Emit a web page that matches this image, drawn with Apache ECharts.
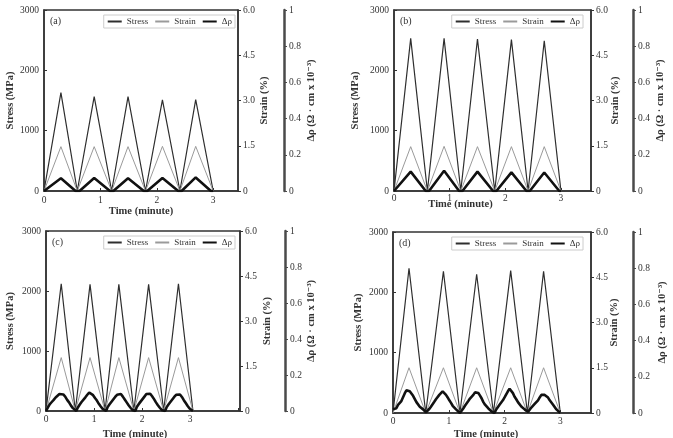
<!DOCTYPE html>
<html>
<head>
<meta charset="utf-8">
<script src="https://cdn.jsdelivr.net/npm/echarts@6/dist/echarts.min.js"></script>
<style>
  html, body { margin: 0; padding: 0; background: #fff; }
  #chart { width: 673px; height: 438px; }
</style>
</head>
<body>
<div id="chart"></div>
<script>
// panel (a)
const aTime = [0, 0.30, 0.59, 0.89, 1.20, 1.49, 1.80, 2.10, 2.41, 2.69, 3.00];
const aStress = [0, 1630, 0, 1565, 0, 1565, 0, 1510, 0, 1515, 0];
const aStrain = [0, 1.47, 0, 1.47, 0, 1.47, 0, 1.48, 0, 1.48, 0];
const aDrhoTime = [0, 0.30, 0.56, 0.63, 0.89, 1.17, 1.23, 1.49, 1.77, 1.83, 2.10, 2.38, 2.44, 2.69, 2.96, 3.00];
const aDrho = [0, 0.070, 0, 0, 0.072, 0, 0, 0.070, 0, 0, 0.072, 0, 0, 0.075, 0, 0];

// panel (b)
const bTime = [0, 0.30, 0.60, 0.90, 1.20, 1.50, 1.81, 2.11, 2.41, 2.70, 3.00];
const bStress = [0, 2530, 0, 2530, 0, 2520, 0, 2510, 0, 2490, 0];
const bStrain = [0, 1.47, 0, 1.48, 0, 1.47, 0, 1.47, 0, 1.47, 0];
const bDrhoTime = [0, 0.30, 0.57, 0.63, 0.90, 1.17, 1.23, 1.50, 1.78, 1.84, 2.11, 2.38, 2.44, 2.70, 2.97, 3.00];
const bDrho = [0, 0.107, 0, 0, 0.112, 0, 0, 0.107, 0, 0, 0.103, 0, 0, 0.102, 0, 0];

// panel (c)
const cTime = [0, 0.317, 0.61, 0.917, 1.23, 1.517, 1.83, 2.137, 2.45, 2.758, 3.06];
const cStress = [0, 2120, 0, 2110, 0, 2110, 0, 2110, 0, 2120, 0];
const cStrain = [0, 1.78, 0, 1.78, 0, 1.78, 0, 1.78, 0, 1.78, 0];
const cDrhoTime = [
  0, 0.04, 0.08, 0.12, 0.16, 0.20, 0.24, 0.28, 0.32, 0.36, 0.40, 0.44, 0.48, 0.52, 0.56, 0.60, 0.63,
  0.66, 0.70, 0.74, 0.78, 0.82, 0.86, 0.90, 0.94, 0.98, 1.02, 1.06, 1.10, 1.14, 1.18, 1.22, 1.25,
  1.28, 1.32, 1.36, 1.40, 1.44, 1.48, 1.52, 1.56, 1.60, 1.64, 1.68, 1.72, 1.76, 1.80, 1.83, 1.86,
  1.89, 1.93, 1.97, 2.01, 2.05, 2.09, 2.13, 2.17, 2.21, 2.25, 2.29, 2.33, 2.37, 2.41, 2.45, 2.48,
  2.51, 2.55, 2.59, 2.63, 2.67, 2.71, 2.75, 2.79, 2.83, 2.87, 2.91, 2.95, 2.99, 3.03, 3.06
];
const cDrho = [
  0, 0.020, 0.038, 0.050, 0.062, 0.075, 0.083, 0.094, 0.098, 0.092, 0.080, 0.062, 0.048, 0.030, 0.016, 0.005, 0,
  0.018, 0.035, 0.050, 0.060, 0.076, 0.090, 0.103, 0.100, 0.088, 0.072, 0.058, 0.040, 0.025, 0.012, 0.003, 0,
  0.020, 0.036, 0.050, 0.064, 0.078, 0.090, 0.098, 0.094, 0.080, 0.064, 0.048, 0.032, 0.018, 0.006, 0, 0,
  0.022, 0.038, 0.052, 0.066, 0.080, 0.094, 0.100, 0.096, 0.082, 0.066, 0.048, 0.032, 0.018, 0.006, 0, 0,
  0.020, 0.036, 0.050, 0.064, 0.078, 0.090, 0.097, 0.092, 0.078, 0.060, 0.044, 0.028, 0.014, 0.004, 0
];

// panel (d)
const dTime = [0, 0.287, 0.587, 0.904, 1.20, 1.50, 1.80, 2.11, 2.41, 2.70, 3.00];
const dStress = [0, 2400, 0, 2350, 0, 2300, 0, 2360, 0, 2350, 0];
const dStrain = [0, 1.50, 0, 1.50, 0, 1.50, 0, 1.50, 0, 1.50, 0];
const dDrhoTime = [
  0, 0.03, 0.06, 0.09, 0.12, 0.15, 0.18, 0.21, 0.24, 0.27, 0.30, 0.33, 0.36, 0.39, 0.42, 0.45, 0.48, 0.51, 0.54, 0.57, 0.59,
  0.62, 0.65, 0.68, 0.71, 0.74, 0.77, 0.80, 0.83, 0.86, 0.89, 0.92, 0.95, 0.98, 1.01, 1.04, 1.07, 1.10, 1.13, 1.16, 1.20,
  1.23, 1.26, 1.29, 1.32, 1.35, 1.38, 1.41, 1.44, 1.47, 1.50, 1.53, 1.56, 1.59, 1.62, 1.65, 1.68, 1.71, 1.74, 1.77, 1.80, 1.82,
  1.85, 1.88, 1.91, 1.94, 1.97, 2.00, 2.03, 2.06, 2.09, 2.12, 2.15, 2.18, 2.21, 2.24, 2.27, 2.30, 2.33, 2.36, 2.39, 2.42,
  2.45, 2.48, 2.51, 2.54, 2.57, 2.60, 2.63, 2.66, 2.69, 2.72, 2.75, 2.78, 2.81, 2.84, 2.87, 2.90, 2.93, 2.96, 3.00
];
const dDrho = [
  0.020, 0.030, 0.026, 0.045, 0.050, 0.066, 0.075, 0.108, 0.125, 0.129, 0.120, 0.112, 0.095, 0.086, 0.060, 0.050, 0.035, 0.040, 0.020, 0.012, 0.004,
  0.010, 0.022, 0.035, 0.040, 0.062, 0.076, 0.070, 0.100, 0.110, 0.120, 0.114, 0.100, 0.086, 0.070, 0.056, 0.040, 0.030, 0.020, 0.010, 0,
  0.012, 0.025, 0.040, 0.050, 0.066, 0.080, 0.090, 0.100, 0.114, 0.120, 0.110, 0.096, 0.080, 0.060, 0.046, 0.036, 0.025, 0.020, 0.008, 0.016, 0,
  0.020, 0.030, 0.046, 0.050, 0.070, 0.086, 0.090, 0.120, 0.134, 0.125, 0.110, 0.090, 0.076, 0.060, 0.050, 0.036, 0.030, 0.020, 0.010, 0.005,
  0.015, 0.030, 0.040, 0.050, 0.060, 0.070, 0.086, 0.100, 0.105, 0.100, 0.095, 0.085, 0.070, 0.060, 0.046, 0.035, 0.020, 0.010, 0
];

const panels = [
  { label: "(a)", time: aTime, stress: aStress, strain: aStrain, drhoTime: aDrhoTime, drho: aDrho },
  { label: "(b)", time: bTime, stress: bStress, strain: bStrain, drhoTime: bDrhoTime, drho: bDrho },
  { label: "(c)", time: cTime, stress: cStress, strain: cStrain, drhoTime: cDrhoTime, drho: cDrho },
  { label: "(d)", time: dTime, stress: dStress, strain: dStrain, drhoTime: dDrhoTime, drho: dDrho },
];

// layout of each panel (pixels); shiftX moves the time title left of the box centre
const layout = [
  { left: 44, top: 10, width: 194, height: 181, xMax: 3.44, drhoOffset: 46, legendRight: 438,
    xMargin: 4, gapX: 15, shiftX: 0, gapStress: 28, gapStrain: 21, gapDrho: 22 },
  { left: 394, top: 10, width: 197, height: 181, xMax: 3.54, drhoOffset: 42, legendRight: 90,
    xMargin: 2, gapX: 7.5, shiftX: 32, gapStress: 33, gapStrain: 18.5, gapDrho: 22 },
  { left: 46, top: 231, width: 194, height: 180, xMax: 4.04, drhoOffset: 45, legendRight: 438,
    xMargin: 3, gapX: 18, shiftX: 8, gapStress: 30, gapStrain: 22, gapDrho: 21 },
  { left: 393, top: 232, width: 198, height: 181, xMax: 3.55, drhoOffset: 42, legendRight: 90,
    xMargin: 3, gapX: 16, shiftX: 6, gapStress: 29, gapStrain: 18, gapDrho: 24 },
];

const FONT = '"Liberation Serif", "DejaVu Serif", serif';
const INK = "#333";
const tickText = { fontFamily: FONT, fontSize: 9.5, color: INK };
const nameText = { fontFamily: FONT, fontSize: 10.5, fontWeight: "bold", color: INK };

const pair = (xs, ys) => xs.map((x, i) => [x, ys[i]]);

const grid = [], xAxis = [], yAxis = [], series = [], legend = [], graphic = [];

panels.forEach((p, i) => {
  const L = layout[i];
  grid.push({
    left: L.left, top: L.top, width: L.width, height: L.height,
    outerBoundsMode: "none",
    show: true, borderColor: INK, borderWidth: 1.5, backgroundColor: "transparent",
  });
  xAxis.push({
    type: "value", gridIndex: i, min: 0, max: L.xMax, interval: 1,
    name: "Time (minute)", nameLocation: "middle", nameGap: L.gapX,
    nameTextStyle: { ...nameText, padding: [0, L.shiftX * 2, 0, 0] },
    nameMoveOverlap: false,
    axisLine: { lineStyle: { color: INK, width: 1.5 } },
    axisTick: { inside: true, length: 3, lineStyle: { color: INK } },
    axisLabel: { ...tickText, margin: L.xMargin, showMaxLabel: false, formatter: v => (v <= 3 ? String(v) : "") },
    splitLine: { show: false },
  });
  yAxis.push({
    type: "value", gridIndex: i, position: "left", min: 0, max: 3000, interval: 1000,
    name: "Stress (MPa)", nameLocation: "middle", nameGap: L.gapStress, nameTextStyle: nameText,
    nameMoveOverlap: false,
    axisLine: { show: true, lineStyle: { color: INK, width: 1.5 } },
    axisTick: { inside: true, length: 3, lineStyle: { color: INK } },
    axisLabel: { ...tickText, margin: 5, formatter: v => String(v) },
    splitLine: { show: false },
  });
  yAxis.push({
    type: "value", gridIndex: i, position: "right", offset: 0, min: 0, max: 6, interval: 1.5,
    name: "Strain (%)", nameLocation: "middle", nameGap: L.gapStrain, nameTextStyle: nameText,
    nameMoveOverlap: false,
    axisLine: { show: true, lineStyle: { color: INK, width: 1.5 } },
    axisTick: { show: true, length: 3, lineStyle: { color: INK } },
    axisLabel: { ...tickText, margin: 5, formatter: v => (v === 0 ? "0" : v.toFixed(1)) },
    splitLine: { show: false },
  });
  yAxis.push({
    type: "value", gridIndex: i, position: "right", offset: L.drhoOffset, min: 0, max: 1, interval: 0.2,
    name: "Δρ (Ω · cm x 10⁻³)", nameLocation: "middle", nameGap: L.gapDrho, nameTextStyle: nameText,
    nameMoveOverlap: false,
    axisLine: { show: true, lineStyle: { color: "#4a4a4a", width: 2.5 } },
    axisTick: { show: true, length: 3, lineStyle: { color: "#4a4a4a" } },
    axisLabel: { ...tickText, margin: 5, formatter: v => (v === 0 || v === 1 ? String(v) : v.toFixed(1)) },
    splitLine: { show: false },
  });

  series.push({
    name: "Stress", type: "line", xAxisIndex: i, yAxisIndex: i * 3,
    data: pair(p.time, p.stress), symbol: "none",
    lineStyle: { color: "#2e2e2e", width: 1.2 }, itemStyle: { color: "#2e2e2e" },
  });
  series.push({
    name: "Strain", type: "line", xAxisIndex: i, yAxisIndex: i * 3 + 1,
    data: pair(p.time, p.strain), symbol: "none",
    lineStyle: { color: "#9a9a9a", width: 1 }, itemStyle: { color: "#9a9a9a" },
  });
  series.push({
    name: "Δρ", type: "line", xAxisIndex: i, yAxisIndex: i * 3 + 2,
    data: pair(p.drhoTime, p.drho), symbol: "none",
    lineStyle: { color: "#111", width: 2.6 }, itemStyle: { color: "#111" },
  });

  legend.push({
    data: ["Stress", "Strain", "Δρ"],
    right: L.legendRight, top: L.top + 5,
    orient: "horizontal", itemWidth: 14, itemHeight: 8, itemGap: 6,
    padding: [2, 3], backgroundColor: "#fff", borderColor: "#ccc", borderWidth: 1,
    itemStyle: { opacity: 0 },
    textStyle: { fontFamily: FONT, fontSize: 9, color: INK },
    selectedMode: false,
  });

  graphic.push({
    type: "text", left: L.left + 6, top: L.top + 6,
    style: { text: p.label, font: '10px "Liberation Serif", serif', fill: INK },
  });
});

const chart = echarts.init(document.getElementById("chart"));
chart.setOption({
  animation: false,
  backgroundColor: "#fff",
  grid, xAxis, yAxis, series, legend, graphic,
});
</script>
</body>
</html>
